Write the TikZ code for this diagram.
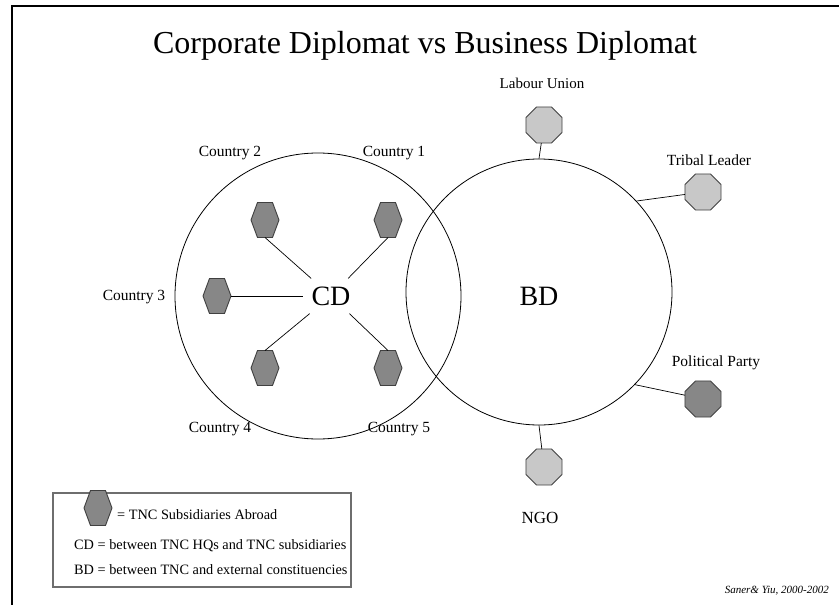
\documentclass[tikz,border=0pt]{standalone}
\usepackage{fontspec}
\setmainfont{Liberation Serif}
\usetikzlibrary{shapes.geometric,calc}
\definecolor{hexgray}{RGB}{135,135,135}
\definecolor{octlight}{RGB}{200,200,200}
\definecolor{boxgray}{RGB}{110,110,110}
\tikzset{
  hexbox/.style={minimum width=28pt,minimum height=35pt,inner sep=0pt,outer sep=0pt},
  hexfill/.style={fill=hexgray,draw=black!75,line width=0.9pt},
  octlt/.style={regular polygon,regular polygon sides=8,minimum size=39pt,inner sep=0pt,outer sep=0pt,fill=octlight,draw=black!75,line width=0.9pt},
  octdk/.style={octlt,fill=hexgray},
  link/.style={draw=black,line width=0.7pt},
  lbl/.style={font=\fontsize{15.5}{17}\selectfont,inner sep=0pt},
  big/.style={font=\fontsize{28}{32}\selectfont},
  ring/.style={circle,draw=black,line width=0.8pt,inner sep=0pt}
}
\newcommand{\hexdraw}[1]{%
  \draw[hexfill] (#1.west) -- ($(#1.north west)+(6.5pt,0)$) -- ($(#1.north east)-(6.5pt,0)$) -- (#1.east) -- ($(#1.south east)-(6.5pt,0)$) -- ($(#1.south west)+(6.5pt,0)$) -- cycle;}
\begin{document}
\begin{tikzpicture}[x=1pt,y=-1pt]
\useasboundingbox (0,0) rectangle (839,605);
\fill[white] (0,0) rectangle (839,605);
% frame
\draw[line width=2pt] (12,605) -- (12,6) -- (839,6);
% title
\node[font=\fontsize{32}{36}\selectfont,inner sep=0pt] (title) at (425,46) {Corporate Diplomat vs Business Diplomat};
% circles
\node[ring,minimum size=286pt] (cdc) at (318,296) {};
\node[ring,minimum size=266pt] (bd) at (539,292) {};
\node[big,inner sep=8pt] (cd) at (331,296) {CD};
\node[big] (bdt) at (539,296) {BD};
% hexagons
\node[hexbox] (h1) at (265,220) {};
\node[hexbox] (h2) at (388,220) {};
\node[hexbox] (h3) at (217,296) {};
\node[hexbox] (h4) at (265,368) {};
\node[hexbox] (h5) at (388,368) {};
\foreach \h in {h1,h2,h3,h4,h5} {\hexdraw{\h}}
\draw[link] (h1.south) -- (cd);
\draw[link] (h2.south) -- (cd);
\draw[link] (h3.east) -- (cd);
\draw[link] (h4.north) -- (cd);
\draw[link] (h5.north) -- (cd);
% country labels
\node[lbl] (c2) at (230,153) {Country 2};
\node[lbl] (c1) at (394,153) {Country 1};
\node[lbl] (c3) at (134,297) {Country 3};
\node[lbl] (c4) at (220,429) {Country 4};
\node[lbl] (c5) at (399,429) {Country 5};
% octagons
\node[octlt] (lu) at (544,125) {};
\node[octlt] (tl) at (703,192) {};
\node[octdk] (pp) at (703,399) {};
\node[octlt] (ngo) at (544,467) {};
\draw[link] (bd.north) -- (lu);
\draw[link] (bd.43.5) -- (tl);
\draw[link] (bd.-44.7) -- (pp);
\draw[link] (bd.south) -- (ngo);
\node[font=\fontsize{15}{17}\selectfont,inner sep=0pt] (lut) at (542,83) {Labour Union};
\node[lbl] (tlt) at (709,160) {Tribal Leader};
\node[lbl] (ppt) at (716,363) {Political Party};
\node[font=\fontsize{17}{19}\selectfont,inner sep=0pt] (ngot) at (540,518) {NGO};
% legend
\node[draw=boxgray,line width=1.2pt,minimum width=298pt,minimum height=94pt,inner sep=0pt] (leg) at (202,540) {};
\node[hexbox] (lh) at (98,508) {};
\hexdraw{lh}
\node[font=\fontsize{14.3}{16}\selectfont,anchor=west,inner sep=0pt] (l1) at (117,515) {= TNC Subsidiaries Abroad};
\node[font=\fontsize{14.3}{16}\selectfont,anchor=west,inner sep=0pt] (l2) at (74,546) {CD = between TNC HQs and TNC subsidiaries};
\node[font=\fontsize{14.3}{16}\selectfont,anchor=west,inner sep=0pt] (l3) at (74,570) {BD = between TNC and external constituencies};
% credit
\node[font=\itshape\fontsize{11}{13}\selectfont,anchor=east,inner sep=0pt] (cr) at (829,591) {Saner\& Yiu, 2000-2002};
\end{tikzpicture}
\end{document}
